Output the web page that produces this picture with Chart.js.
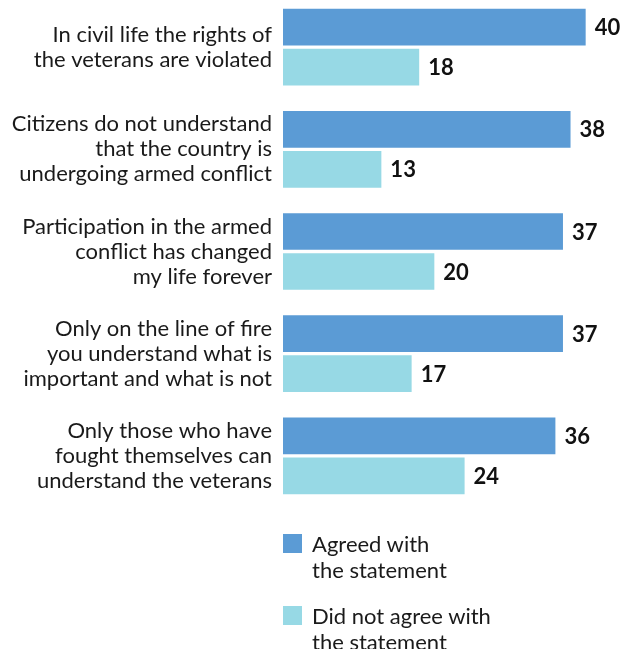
<!DOCTYPE html>
<html>
<head>
<meta charset="utf-8">
<script src="https://cdn.jsdelivr.net/npm/chart.js@4/dist/chart.umd.min.js"></script>
<style>
  html, body { margin: 0; padding: 0; background: #fff; overflow: hidden; }
  body { width: 628px; height: 649px; position: relative; font-family: Lato, sans-serif; }
  #wrap { position: absolute; left: 0; top: -4px; width: 628px; height: 653px; }
  .leg { position: absolute; left: 283px; font-size: 22px; line-height: 26px; color: #1a1a1a; }
  .leg .box { position: absolute; left: 0; width: 19px; height: 19px; }
  .leg .txt { position: absolute; left: 29px; white-space: nowrap; }
</style>
</head>
<body>
<div id="wrap"><canvas id="c"></canvas></div>
<div class="leg" style="top:534px"><div class="box" id="box1"></div><div class="txt" style="top:-3px">Agreed with<br>the statement</div></div>
<div class="leg" style="top:606px"><div class="box" id="box2"></div><div class="txt" style="top:-3px">Did not agree with<br>the statement</div></div>
<script>
// Survey statements (multi-line labels) and share of respondents, %
const statements = [
  ["In civil life the rights of", "the veterans are violated"],
  ["Citizens do not understand", "that the country is", "undergoing armed conflict"],
  ["Participation in the armed", "conflict has changed", "my life forever"],
  ["Only on the line of fire", "you understand what is", "important and what is not"],
  ["Only those who have", "fought themselves can", "understand the veterans"]
];
const agreed = [40, 38, 37, 37, 36];
const disagreed = [18, 13, 20, 17, 24];
const seriesNames = ["Agreed with the statement", "Did not agree with the statement"];
const seriesColors = ["#5B9BD5", "#97D9E5"];

document.getElementById('box1').style.background = seriesColors[0];
document.getElementById('box2').style.background = seriesColors[1];

const FONT = "Lato, sans-serif";

// Writes each bar's value just past its end
const valueLabels = {
  id: 'valueLabels',
  afterDatasetsDraw(chart) {
    const ctx = chart.ctx;
    ctx.save();
    ctx.font = "bold 22px " + FONT;
    ctx.fillStyle = "#111";
    ctx.textAlign = "left";
    ctx.textBaseline = "middle";
    chart.data.datasets.forEach((ds, i) => {
      chart.getDatasetMeta(i).data.forEach((bar, j) => {
        ctx.fillText(String(ds.data[j]), bar.x + 9, bar.y + 1);
      });
    });
    ctx.restore();
  }
};

new Chart(document.getElementById('c'), {
  type: 'bar',
  data: {
    labels: statements,
    datasets: [
      { label: seriesNames[0], data: agreed, backgroundColor: seriesColors[0] },
      { label: seriesNames[1], data: disagreed, backgroundColor: seriesColors[1] }
    ]
  },
  options: {
    indexAxis: 'y',
    responsive: true,
    maintainAspectRatio: false,
    animation: false,
    datasets: { bar: { categoryPercentage: 0.783, barPercentage: 0.9175 } },
    layout: { padding: { top: 0, right: 4.5, bottom: 142, left: 0 } },
    plugins: { legend: { display: false }, tooltip: { enabled: false } },
    scales: {
      x: { display: false, min: 0, max: 45 },
      y: {
        grid: { display: false, drawTicks: false },
        border: { display: false },
        ticks: {
          padding: 11,
          color: "#1a1a1a",
          font: { family: FONT, size: 22, lineHeight: 1.136 }
        },
        afterFit(scale) {
          scale.width = 283;
          scale.paddingTop = 0;
          scale.paddingBottom = 0;
        }
      }
    }
  },
  plugins: [valueLabels]
});
</script>
</body>
</html>
